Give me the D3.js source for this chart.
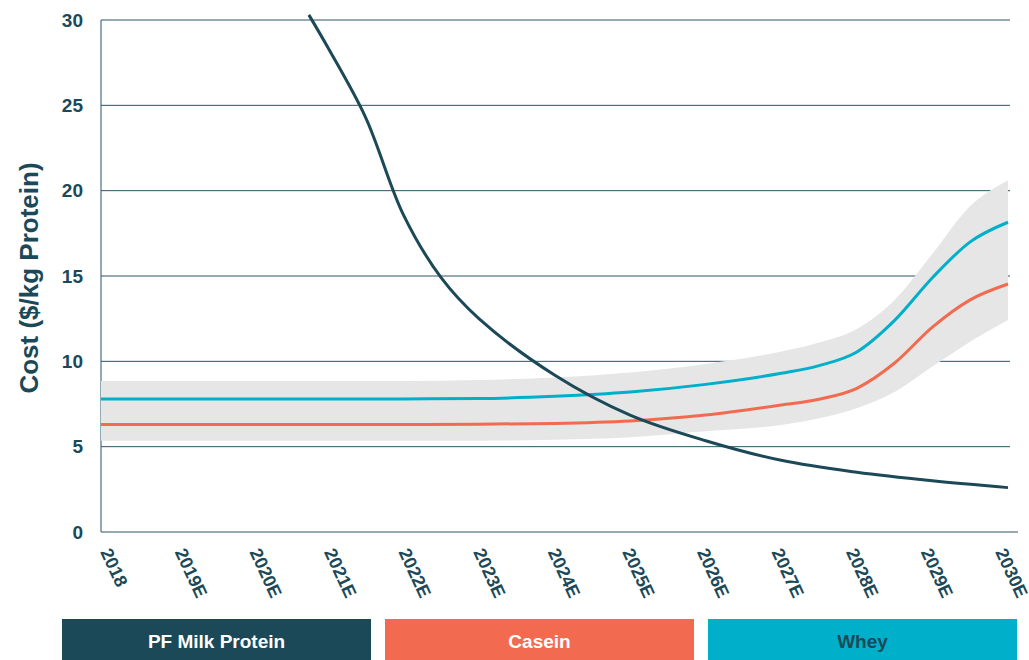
<!DOCTYPE html>
<html><head><meta charset="utf-8">
<script src="https://cdn.jsdelivr.net/npm/d3@7"></script>
<style>
body{margin:0;background:#fff;}
text{font-family:"Liberation Sans",Arial,Helvetica,sans-serif;font-weight:bold;}
</style></head>
<body><svg id="c" width="1029" height="660"></svg>
<script>
const categories = ["2018","2019E","2020E","2021E","2022E","2023E","2024E","2025E","2026E","2027E","2028E","2029E","2030E"];
const yTicks = [0,5,10,15,20,25,30];
// position (in category steps from 2018) of each sampled value
const sampleIndex =  [0,1,2,3,4,5,6,7,8,9,9.5,10,10.5,11,11.5,12];
const wheyValues =   [7.8,7.8,7.8,7.8,7.8,7.82,7.95,8.2,8.65,9.3,9.75,10.55,12.4,14.9,17.0,18.15];
const caseinValues = [6.3,6.3,6.3,6.3,6.3,6.32,6.36,6.5,6.85,7.44,7.78,8.42,9.9,12.0,13.6,14.53];
const bandUpper =    [8.85,8.85,8.85,8.85,8.85,8.9,9.05,9.35,9.85,10.57,11.1,11.9,13.6,16.3,19.1,20.6];
const bandLower =    [5.35,5.35,5.35,5.35,5.35,5.35,5.4,5.55,5.9,6.27,6.66,7.25,8.2,9.7,11.15,12.42];
const pfIndex =  [2.75,3,3.5,4,4.5,5,6,7,8,9,10,11,12];
const pfValues = [30.3,28.4,24.3,18.6,14.9,12.5,9.2,6.85,5.35,4.2,3.5,3.0,2.6];
const legendNames = ["PF Milk Protein","Casein","Whey"];

const dark="#1b4958", orange="#f26b50", blue="#00afca", grid="#2a5566";
const svg=d3.select("#c");
const x=d3.scaleLinear().domain([0,categories.length-1]).range([101,1008]);
const xLab=d3.scalePoint().domain(categories).range([101,996]);
const y=d3.scaleLinear().domain([0,30]).range([532,20]);
const curve=d3.curveMonotoneX;

svg.append("g").selectAll("line").data(yTicks.filter(d=>d>0)).join("line")
  .attr("x1",101).attr("x2",1010).attr("y1",d=>y(d)).attr("y2",d=>y(d))
  .attr("stroke",grid).attr("stroke-width",1);
svg.append("line").attr("x1",101).attr("x2",101).attr("y1",y(30)).attr("y2",y(0)).attr("stroke",grid);
svg.append("line").attr("x1",101).attr("x2",1018).attr("y1",y(0)).attr("y2",y(0)).attr("stroke",grid);

const idx=d3.range(sampleIndex.length);
svg.append("path").datum(idx)
  .attr("d",d3.area().x(i=>x(sampleIndex[i])).y0(i=>y(bandLower[i])).y1(i=>y(bandUpper[i])).curve(curve))
  .attr("fill","#e6e6e6");

const line=d3.line().curve(curve);
svg.append("path").attr("d",line(idx.map(i=>[x(sampleIndex[i]),y(caseinValues[i])])))
  .attr("fill","none").attr("stroke",orange).attr("stroke-width",3);
svg.append("path").attr("d",line(idx.map(i=>[x(sampleIndex[i]),y(wheyValues[i])])))
  .attr("fill","none").attr("stroke",blue).attr("stroke-width",3);
svg.append("path").attr("d",d3.line().curve(d3.curveCatmullRom.alpha(0.5))(pfIndex.map((v,i)=>[x(v),y(pfValues[i])])))
  .attr("fill","none").attr("stroke",dark).attr("stroke-width",3);

svg.append("g").selectAll("text").data(yTicks).join("text")
  .attr("x",83).attr("y",d=>y(d)).attr("dy","0.35em").attr("text-anchor","end")
  .attr("font-size",19).attr("fill",dark).text(d=>d);
svg.append("text").attr("transform","translate(38,278) rotate(-90)").attr("text-anchor","middle")
  .attr("font-size",26).attr("fill",dark).text("Cost ($/kg Protein)");
svg.append("g").selectAll("text").data(categories).join("text")
  .attr("transform",d=>`translate(${xLab(d)-1},552) rotate(65)`)
  .attr("text-anchor","start").attr("font-size",18).attr("fill",dark).text(d=>d);

const legX=d3.scaleBand().domain(legendNames).range([62,1017]).paddingInner(0.0433).paddingOuter(0);
const legFill=[dark,orange,blue], legText=["#fff","#fff",dark];
const lg=svg.append("g").selectAll("g").data(legendNames).join("g");
lg.append("rect").attr("x",d=>legX(d)).attr("y",619).attr("width",legX.bandwidth()).attr("height",41)
  .attr("fill",(d,i)=>legFill[i]);
lg.append("text").attr("x",d=>legX(d)+legX.bandwidth()/2).attr("y",641).attr("dy","0.35em").attr("text-anchor","middle")
  .attr("font-size",19).attr("fill",(d,i)=>legText[i]).text(d=>d);
</script></body></html>
